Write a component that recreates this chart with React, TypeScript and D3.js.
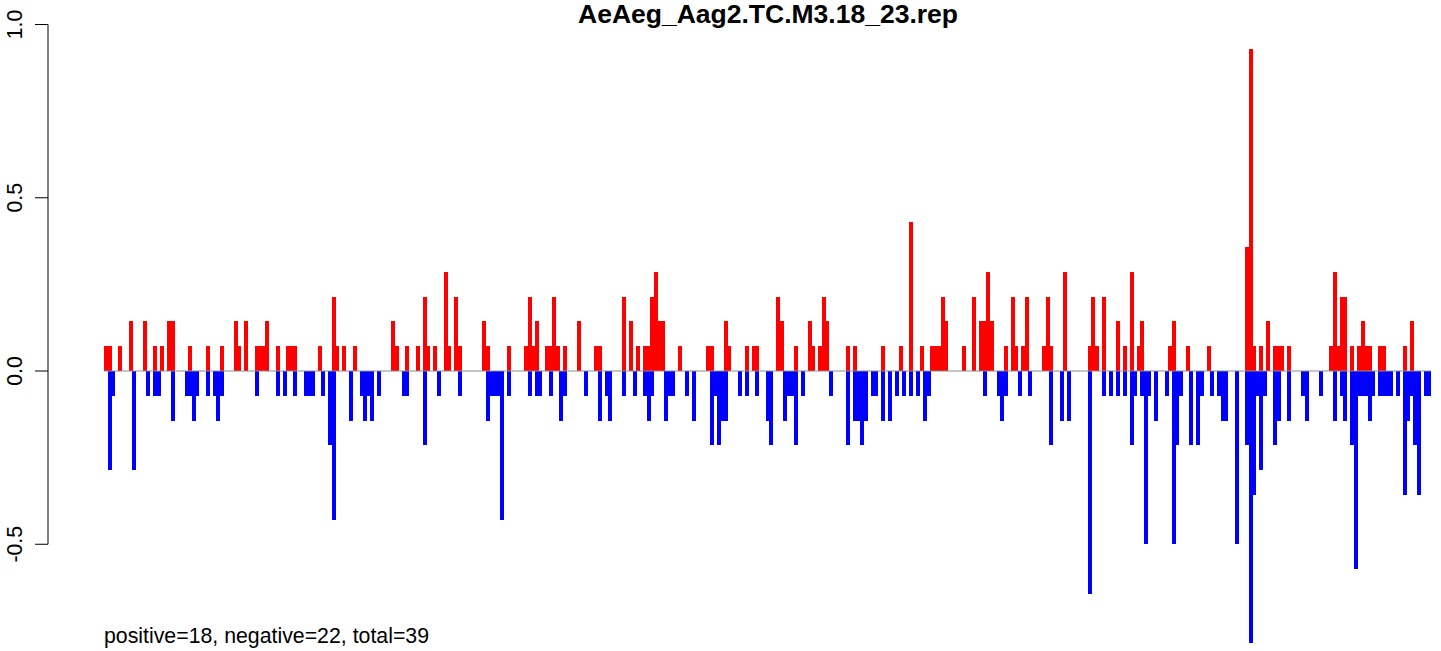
import { scaleLinear } from "d3";

// slot index along the sequence, value (fraction)
const positive: [number, number][] = [
  [0, 0.071], [1, 0.071], [4, 0.071], [7, 0.143], [11, 0.143], [14, 0.071], [16, 0.071], [18, 0.143], [19, 0.143], [24, 0.071], [29, 0.071], [33, 0.071],
  [37, 0.143], [38, 0.071], [40, 0.143], [43, 0.071], [44, 0.071], [45, 0.071], [46, 0.143], [49, 0.071], [52, 0.071], [53, 0.071], [54, 0.071], [61, 0.071], [65, 0.214], [66, 0.071],
  [68, 0.071], [71, 0.071], [82, 0.143], [83, 0.071], [86, 0.071], [89, 0.071], [91, 0.214], [92, 0.071], [94, 0.071], [97, 0.286], [98, 0.071], [100, 0.214], [101, 0.071],
  [108, 0.143], [109, 0.071], [115, 0.071], [120, 0.071], [121, 0.214], [122, 0.071], [123, 0.143], [126, 0.071], [127, 0.071], [128, 0.214], [129, 0.071], [131, 0.071], [135, 0.143],
  [140, 0.071], [141, 0.071], [148, 0.214], [150, 0.143], [152, 0.071], [154, 0.071], [155, 0.071], [156, 0.214], [157, 0.286], [158, 0.143], [159, 0.143], [164, 0.071],
  [172, 0.071], [173, 0.071], [177, 0.143], [178, 0.071], [183, 0.071], [185, 0.071], [186, 0.071], [192, 0.214], [193, 0.143], [197, 0.071], [201, 0.143], [202, 0.071], [204, 0.071], [205, 0.214], [206, 0.143],
  [212, 0.071], [214, 0.071], [222, 0.071], [227, 0.071], [230, 0.429], [233, 0.071], [236, 0.071], [237, 0.071], [238, 0.071], [239, 0.214], [240, 0.143],
  [245, 0.071], [248, 0.214], [250, 0.143], [251, 0.143], [252, 0.286], [253, 0.143], [257, 0.071], [259, 0.214], [260, 0.071], [262, 0.071], [263, 0.214], [268, 0.071], [269, 0.214], [270, 0.071],
  [274, 0.286], [281, 0.071], [282, 0.214], [283, 0.071], [285, 0.214], [289, 0.143], [291, 0.071], [293, 0.286], [295, 0.071], [296, 0.143], [304, 0.071], [305, 0.143],
  [309, 0.071], [315, 0.071], [326, 0.357], [327, 0.929], [328, 0.071], [330, 0.071], [332, 0.143], [334, 0.071], [335, 0.071], [336, 0.071], [338, 0.071],
  [350, 0.071], [351, 0.286], [352, 0.071], [353, 0.214], [354, 0.214], [356, 0.071], [358, 0.071], [359, 0.143], [360, 0.071], [361, 0.071], [364, 0.071], [365, 0.071], [371, 0.071], [373, 0.143],
];

const negative: [number, number][] = [
  [1, -0.286], [2, -0.071], [8, -0.286], [12, -0.071], [14, -0.071], [15, -0.071], [19, -0.143], [23, -0.071], [24, -0.071], [25, -0.143], [26, -0.071], [29, -0.071], [31, -0.071], [32, -0.143], [33, -0.071],
  [43, -0.071], [49, -0.071], [51, -0.071], [54, -0.071], [57, -0.071], [58, -0.071], [59, -0.071], [62, -0.071], [64, -0.214], [65, -0.429],
  [70, -0.143], [73, -0.071], [74, -0.143], [75, -0.071], [76, -0.143], [78, -0.071], [85, -0.071], [86, -0.071], [91, -0.214], [95, -0.071], [101, -0.071],
  [109, -0.143], [110, -0.071], [111, -0.071], [112, -0.071], [113, -0.429], [115, -0.071], [121, -0.071], [123, -0.071], [124, -0.071], [127, -0.071], [130, -0.143], [131, -0.071],
  [137, -0.071], [141, -0.143], [143, -0.071], [144, -0.143], [148, -0.071], [151, -0.071], [154, -0.071], [155, -0.143], [156, -0.071], [160, -0.143], [161, -0.071], [162, -0.071], [166, -0.071], [168, -0.143],
  [173, -0.214], [174, -0.071], [175, -0.214], [176, -0.143], [177, -0.143], [181, -0.071], [183, -0.071], [186, -0.071], [189, -0.143], [190, -0.214], [194, -0.143], [195, -0.071], [196, -0.071], [197, -0.214], [199, -0.071],
  [207, -0.071], [212, -0.214], [214, -0.143], [215, -0.143], [216, -0.214], [217, -0.143], [219, -0.071], [220, -0.071], [222, -0.143], [224, -0.143], [226, -0.071], [228, -0.071], [230, -0.071], [232, -0.071], [234, -0.143], [235, -0.071],
  [251, -0.071], [255, -0.071], [256, -0.143], [257, -0.071], [261, -0.071], [264, -0.071], [270, -0.214], [273, -0.143],
  [275, -0.143], [281, -0.643], [285, -0.071], [287, -0.071], [289, -0.071], [291, -0.071], [293, -0.214], [294, -0.071], [296, -0.071], [297, -0.5], [298, -0.071], [300, -0.143], [303, -0.071], [305, -0.5], [306, -0.214], [307, -0.071],
  [310, -0.214], [312, -0.214], [313, -0.071], [316, -0.071], [318, -0.071], [319, -0.143], [320, -0.143], [323, -0.5], [326, -0.214], [327, -0.786], [328, -0.357], [329, -0.071], [330, -0.286], [331, -0.071], [334, -0.214], [335, -0.143], [338, -0.143],
  [342, -0.071], [343, -0.143], [347, -0.071], [351, -0.143], [353, -0.071], [354, -0.143], [356, -0.214], [357, -0.571], [358, -0.071], [359, -0.071], [360, -0.071], [361, -0.143], [362, -0.071], [364, -0.071], [365, -0.071], [366, -0.071], [367, -0.071], [369, -0.071],
  [371, -0.357], [372, -0.143], [373, -0.071], [374, -0.214], [375, -0.357], [377, -0.071], [378, -0.071],
];

const yTicks = [1.0, 0.5, 0.0, -0.5];
const title = "AeAeg_Aag2.TC.M3.18_23.rep";
const summary = "positive=18, negative=22, total=39";
const slotCount = 379;

const W = 1441;
const H = 651;
const font = "'Liberation Sans', Arial, Helvetica, sans-serif";

const App = () => {
  const x = scaleLinear().domain([0, slotCount]).range([104, 1430.5]);
  const y = scaleLinear().domain([0, 1]).range([371, 24.5]);
  const bw = x(1) - x(0) + 0.5;
  const axisX = 48;

  return (
    <svg
      width={W}
      height={H}
      style={{ position: "absolute", left: 0, top: 0, background: "#fff" }}
      fontFamily={font}
    >
      <g shapeRendering="crispEdges">
        {positive.map(([s, v]) => (
          <rect key={"p" + s} x={x(s)} y={y(v)} width={bw} height={y(0) - y(v)} fill="#ff0000" />
        ))}
        {negative.map(([s, v]) => (
          <rect key={"n" + s} x={x(s)} y={y(0)} width={bw} height={y(v) - y(0)} fill="#0000ff" />
        ))}
      </g>
      <line x1={x(0)} x2={x(slotCount)} y1={y(0)} y2={y(0)} stroke="#8c8c8c" strokeWidth={1} />

      {/* y axis */}
      <line x1={axisX} x2={axisX} y1={y(1)} y2={y(-0.5)} stroke="#000" strokeWidth={1} />
      {yTicks.map((t) => (
        <g key={t}>
          <line x1={axisX - 13} x2={axisX} y1={y(t)} y2={y(t)} stroke="#000" strokeWidth={1} />
          <text
            transform={`translate(${axisX - 26},${y(t)}) rotate(-90)`}
            textAnchor="middle"
            fontSize={21.3}
          >
            {t.toFixed(1)}
          </text>
        </g>
      ))}

      <text x={768} y={23} textAnchor="middle" fontSize={26.5} fontWeight="bold">
        {title}
      </text>
      <text x={104} y={643} fontSize={21.3}>
        {summary}
      </text>
    </svg>
  );
};

export default App;
